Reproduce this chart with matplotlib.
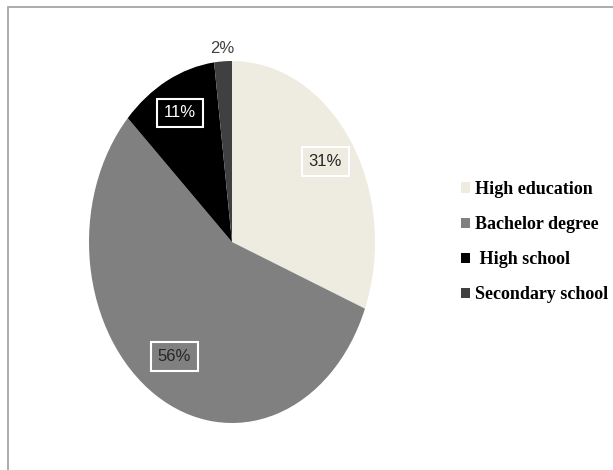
import numpy as np
import matplotlib.pyplot as plt
from matplotlib.patches import Rectangle

# education levels, clockwise from 12 o'clock
labels = ["High education", "Bachelor degree", " High school", "Secondary school"]
shares = [31, 56, 11, 2]
colors = ["#EEECE1", "#808080", "#000000", "#404040"]
pct_colors = ["#262626", "#262626", "#FFFFFF", "#404040"]

fig = plt.figure(figsize=(6.13, 4.70), dpi=100)
fig.patch.set_facecolor("white")
# outer chart frame
fig.patches.append(Rectangle((8 / 613, -0.05), 1.1, 1.05 - 7 / 470, transform=fig.transFigure,
                             fill=False, edgecolor="#A6A6A6", linewidth=1.3))

# elliptical pie: axes box matches the squashed ellipse
ax = fig.add_axes([89 / 613, 47 / 470, 286 / 613, 362 / 470])
wedges, _ = ax.pie(shares, colors=colors, startangle=90, counterclock=False,
                   radius=1.0, wedgeprops=dict(linewidth=0))
ax.set_aspect("auto")
ax.set_xlim(-1, 1)
ax.set_ylim(-1, 1)
ax.axis("off")

# percentage labels placed along each wedge's mid angle
dists = [0.79, 0.75, 0.80, 1.07]
for w, s, d, fc, tc in zip(wedges, shares, dists, colors, pct_colors):
    mid = np.deg2rad((w.theta1 + w.theta2) / 2)
    x, y = d * np.cos(mid), d * np.sin(mid)
    box = None if s < 5 else dict(boxstyle="square,pad=0.4", facecolor=fc,
                                   edgecolor="white", linewidth=1.5)
    ax.text(x, y, f"{s}%", ha="center", va="center", color=tc, fontsize=12,
            family="Liberation Sans", bbox=box)

leg = fig.legend(wedges, labels, loc="upper left", bbox_to_anchor=(452 / 613, 1 - 172 / 470),
                 frameon=False, handlelength=0.5, handleheight=0.5, handletextpad=0.25,
                 labelspacing=1.0, borderpad=0,
                 prop=dict(family="Liberation Serif", weight="bold", size=13))

fig.savefig("out.png", dpi=100)
